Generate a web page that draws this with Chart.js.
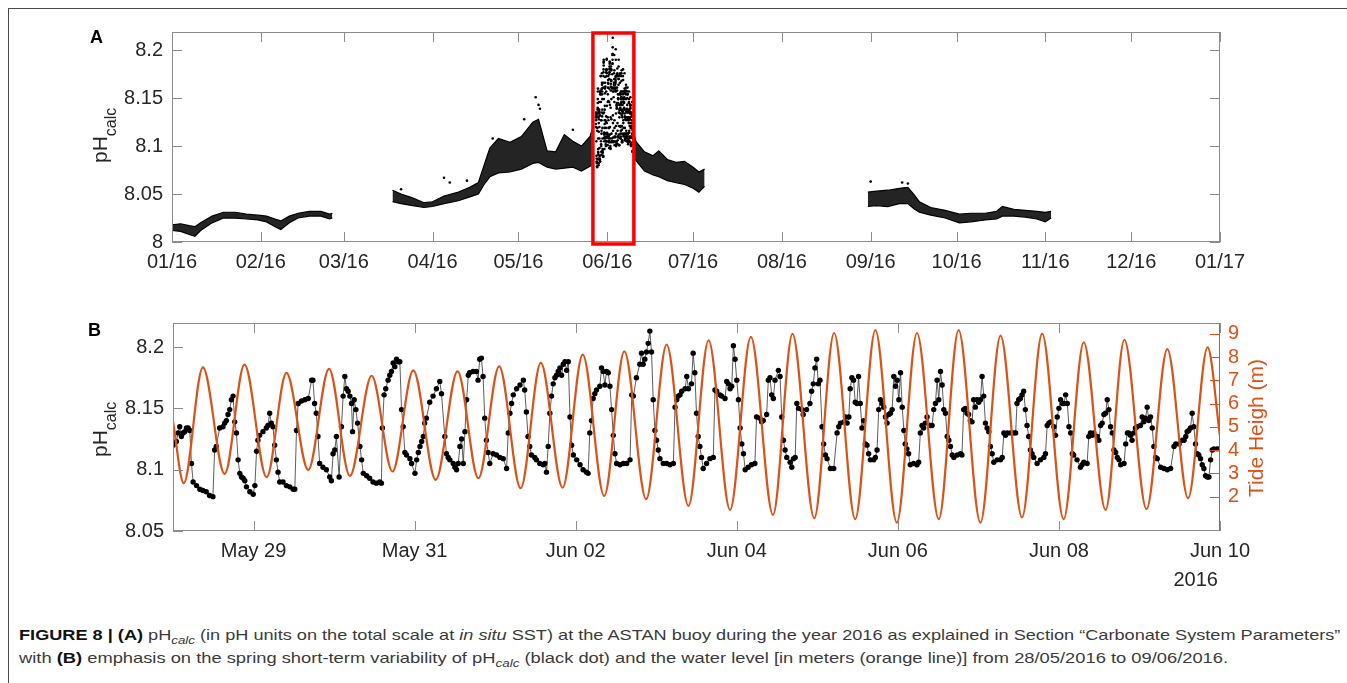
<!DOCTYPE html>
<html>
<head>
<meta charset="utf-8">
<script src="https://cdn.jsdelivr.net/npm/chart.js"></script>
<style>
  body { margin: 0; background: #fff; }
  #fig { position: relative; width: 1347px; height: 683px; overflow: hidden; font-family: "Liberation Sans", Arial, sans-serif; color: #262626; }
  .frame { position: absolute; left: 8px; top: 8px; width: 1400px; height: 800px; border-top: 1.5px solid #4a4a4a; border-left: 1.5px solid #4a4a4a; }
  canvas { position: absolute; left: 0; }
  .panel { position: absolute; font-weight: bold; font-size: 18px; line-height: 18px; color: #000; }
  .ytitle { position: absolute; left: 0; top: 0; transform-origin: 0 0; white-space: nowrap; font-size: 21px; line-height: 21px; }
  .ytitle span { font-size: 16px; position: relative; top: 9px; }
  .cap { position: absolute; left: 19px; white-space: nowrap; font-size: 15px; line-height: 20px; color: #3a3a3a; transform-origin: 0 0; }
  .cap b { color: #111; }
  .cap sub { font-size: 11px; }
</style>
</head>
<body>
<div id="fig">
  <div class="frame"></div>
  <canvas id="chartA" width="1347" height="290" style="top:0"></canvas>
  <canvas id="chartB" width="1347" height="300" style="top:290px"></canvas>
  <div class="panel" style="left:90px;top:28px">A</div>
  <div class="panel" style="left:88px;top:321px">B</div>
  <div class="ytitle" style="transform: translate(89px,163px) rotate(-90deg)">pH<span>calc</span></div>
  <div class="ytitle" style="transform: translate(89px,457px) rotate(-90deg)">pH<span>calc</span></div>
  <div class="ytitle" style="color:#D95319;transform: translate(1245px,497px) rotate(-90deg)">Tide Heigh (m)</div>
  <div style="position:absolute;left:1118px;top:569px;width:100px;text-align:right;font-size:20px;line-height:20px">2016</div>
  <div class="cap" id="cap1" data-w="1321" style="top:625px"><b>FIGURE 8 | (A)</b> pH<sub><i>calc</i></sub> (in pH units on the total scale at <i>in situ</i> SST) at the ASTAN buoy during the year 2016 as explained in Section “Carbonate System Parameters”</div>
  <div class="cap" id="cap2" data-w="1209" style="top:648px">with <b>(B)</b> emphasis on the spring short-term variability of pH<sub><i>calc</i></sub> (black dot) and the water level [in meters (orange line)] from 28/05/2016 to 09/06/2016.</div>
</div>
<script>
// ---------- panel A: whole year 2016, x = day of year (0 = 1 Jan) ----------
const monthTicks = [0, 31, 60, 91, 121, 152, 182, 213, 244, 274, 305, 335, 366];
const monthLabels = ['01/16', '02/16', '03/16', '04/16', '05/16', '06/16', '07/16', '08/16', '09/16', '10/16', '11/16', '12/16', '01/17'];
const phTicksA = [8, 8.05, 8.1, 8.15, 8.2];

// spread of the dense point cloud (lowest / highest values) per period
const winterDay  = [0, 3, 6, 8, 10, 14, 18, 22, 26, 30, 33, 36, 38, 41, 44, 48, 52, 55, 56];
const winterLow  = [8.012, 8.011, 8.008, 8.006, 8.012, 8.020, 8.025, 8.025, 8.024, 8.023, 8.021, 8.016, 8.013, 8.020, 8.025, 8.027, 8.027, 8.024, 8.025];
const winterHigh = [8.018, 8.019, 8.017, 8.016, 8.020, 8.027, 8.031, 8.031, 8.029, 8.028, 8.027, 8.024, 8.022, 8.027, 8.030, 8.032, 8.032, 8.029, 8.030];

const springDay  = [77, 80, 84, 88, 91, 95, 100, 104, 107, 109, 111, 114, 118, 122, 126, 128, 131, 134, 137, 140, 143, 146, 147];
const springLow  = [8.042, 8.040, 8.038, 8.036, 8.037, 8.040, 8.043, 8.047, 8.050, 8.060, 8.068, 8.072, 8.073, 8.076, 8.082, 8.083, 8.078, 8.076, 8.077, 8.078, 8.074, 8.079, 8.080];
const springHigh = [8.054, 8.050, 8.046, 8.041, 8.042, 8.048, 8.052, 8.057, 8.062, 8.080, 8.098, 8.108, 8.104, 8.110, 8.125, 8.128, 8.095, 8.094, 8.112, 8.105, 8.100, 8.110, 8.120];

const summerDay  = [161, 162, 165, 168, 170, 173, 176, 179, 182, 184, 186];
const summerLow  = [8.090, 8.085, 8.074, 8.070, 8.068, 8.064, 8.062, 8.060, 8.056, 8.052, 8.058];
const summerHigh = [8.118, 8.105, 8.094, 8.090, 8.095, 8.086, 8.083, 8.084, 8.078, 8.073, 8.076];

const autumnDay  = [243, 246, 250, 254, 257, 259, 261, 265, 270, 275, 279, 284, 288, 290, 294, 298, 302, 305, 307];
const autumnLow  = [8.037, 8.038, 8.037, 8.040, 8.040, 8.035, 8.031, 8.028, 8.025, 8.020, 8.021, 8.023, 8.024, 8.027, 8.027, 8.026, 8.024, 8.021, 8.025];
const autumnHigh = [8.052, 8.053, 8.054, 8.056, 8.057, 8.050, 8.042, 8.036, 8.033, 8.029, 8.030, 8.030, 8.032, 8.037, 8.034, 8.033, 8.032, 8.031, 8.032];

// isolated points outside the cloud
const yearOutliers = [[80, 8.055], [95, 8.067], [97, 8.062], [103, 8.064], [112, 8.108], [123, 8.128],
  [127, 8.151], [128, 8.143], [128.5, 8.139], [140, 8.117], [244, 8.063], [255, 8.062], [257, 8.061]];

const zoomWindow = [147, 161.3];   // red frame, days
const zoomStartDay = 148;          // 28 May 2016

// ---------- panel B: 28 May - 10 Jun 2016, x = hours since 28 May 00:00 ----------
const hourTicks = [24, 72, 120, 168, 216, 264, 312];
const hourLabels = ['May 29', 'May 31', 'Jun 02', 'Jun 04', 'Jun 06', 'Jun 08', 'Jun 10'];
const phTicksB = [8.05, 8.1, 8.15, 8.2];
const tideTicks = [2, 3, 4, 5, 6, 7, 8, 9];

// [hour, pH_calc]
const phSamples = [
  [0.0,8.120],[1.0,8.123],[1.5,8.130],[2.0,8.135],[2.5,8.127],[3.0,8.130],[3.5,8.131],[4.0,8.134],[4.5,8.134],[5.0,8.132],
  [5.5,8.105],[6.0,8.090],[7.0,8.087],[8.0,8.084],[8.9,8.083],[9.9,8.082],[10.9,8.079],[11.9,8.078],[12.4,8.116],[12.9,8.119],
  [13.9,8.134],[14.9,8.135],[15.4,8.138],[15.9,8.140],[16.4,8.145],[16.9,8.149],[17.4,8.157],[17.9,8.160],[18.4,8.139],[18.9,8.130],
  [19.4,8.108],[19.9,8.097],[20.4,8.094],[20.9,8.093],[21.4,8.091],[21.9,8.086],[22.9,8.082],[23.9,8.080],[24.4,8.087],[24.9,8.115],
  [25.3,8.124],[25.8,8.128],[26.8,8.131],[27.8,8.134],[28.3,8.136],[28.8,8.146],[29.3,8.138],[29.8,8.135],[30.3,8.120],[30.8,8.108],
  [31.3,8.098],[31.8,8.090],[32.8,8.090],[33.8,8.087],[34.8,8.086],[35.8,8.084],[36.3,8.084],[36.8,8.132],[37.3,8.154],[38.3,8.156],
  [39.3,8.157],[40.3,8.158],[41.3,8.173],[41.7,8.173],[42.2,8.154],[42.7,8.146],[43.2,8.127],[43.7,8.105],[44.7,8.102],[45.7,8.100],
  [46.7,8.094],[47.2,8.091],[47.7,8.113],[48.2,8.116],[48.7,8.127],[49.5,8.094],[50.2,8.135],[50.7,8.160],[51.2,8.176],[51.7,8.166],
  [52.2,8.164],[52.7,8.160],[53.2,8.154],[53.5,8.131],[54.0,8.157],[54.5,8.149],[55.0,8.138],[55.7,8.119],[56.2,8.108],[56.7,8.097],
  [57.7,8.095],[58.6,8.093],[59.6,8.090],[60.6,8.089],[61.6,8.090],[62.1,8.089],[62.4,8.134],[62.9,8.161],[63.4,8.166],[64.1,8.173],
  [64.6,8.177],[65.1,8.180],[65.6,8.187],[66.1,8.184],[66.6,8.190],[67.1,8.188],[67.6,8.188],[68.1,8.149],[68.6,8.135],[69.1,8.114],
  [69.6,8.112],[70.6,8.109],[71.1,8.105],[72.1,8.097],[72.6,8.108],[73.1,8.114],[73.6,8.119],[74.1,8.123],[74.6,8.127],[75.0,8.138],
  [75.5,8.142],[76.5,8.155],[77.5,8.160],[78.5,8.166],[79.5,8.172],[80.0,8.162],[81.0,8.127],[81.5,8.113],[82.0,8.110],[82.5,8.108],
  [83.5,8.105],[84.0,8.102],[84.5,8.100],[85.0,8.105],[85.5,8.119],[86.0,8.125],[86.5,8.105],[87.0,8.131],[87.5,8.157],[88.0,8.177],
  [88.4,8.179],[89.4,8.180],[90.4,8.180],[90.9,8.173],[91.4,8.190],[91.9,8.191],[92.4,8.176],[92.9,8.142],[93.4,8.124],[93.9,8.114],
  [94.4,8.105],[95.4,8.113],[96.4,8.112],[97.4,8.110],[98.4,8.109],[99.4,8.101],[99.9,8.130],[100.4,8.146],[100.9,8.154],[101.4,8.161],
  [102.4,8.166],[103.4,8.169],[104.4,8.173],[104.8,8.165],[105.3,8.147],[105.8,8.127],[106.3,8.119],[106.8,8.112],[107.8,8.110],[108.3,8.108],
  [109.3,8.105],[110.3,8.104],[110.8,8.105],[111.3,8.098],[111.8,8.119],[112.3,8.146],[112.8,8.160],[113.3,8.170],[113.8,8.175],[114.3,8.177],
  [114.8,8.180],[115.3,8.183],[115.8,8.177],[116.3,8.186],[116.8,8.188],[117.3,8.181],[117.8,8.188],[118.3,8.143],[118.8,8.120],[119.3,8.112],
  [120.3,8.108],[121.3,8.104],[122.2,8.100],[123.2,8.098],[123.7,8.097],[124.2,8.130],[124.7,8.140],[125.2,8.158],[125.7,8.162],[126.2,8.165],
  [127.2,8.168],[127.7,8.183],[128.2,8.180],[128.7,8.169],[129.2,8.180],[129.7,8.179],[130.2,8.168],[130.7,8.149],[131.2,8.128],[131.7,8.113],
  [132.2,8.105],[133.2,8.104],[134.2,8.105],[135.2,8.105],[136.2,8.108],[136.7,8.161],[137.2,8.160],[138.1,8.175],[139.1,8.186],[139.6,8.195],
  [140.1,8.186],[140.6,8.190],[141.1,8.196],[141.6,8.203],[142.1,8.213],[142.6,8.196],[143.1,8.157],[143.6,8.132],[144.1,8.124],[144.6,8.116],
  [145.1,8.109],[146.1,8.105],[147.1,8.105],[148.1,8.104],[149.1,8.105],[149.6,8.151],[150.1,8.157],[150.6,8.160],[151.1,8.161],[151.6,8.164],
  [152.6,8.166],[153.1,8.176],[153.6,8.166],[154.5,8.170],[155.0,8.195],[155.5,8.179],[156.0,8.146],[156.5,8.127],[157.0,8.119],[157.5,8.110],
  [158.0,8.101],[159.0,8.105],[160.0,8.109],[161.0,8.110],[161.5,8.165],[162.0,8.164],[163.0,8.161],[163.5,8.160],[164.5,8.158],[165.0,8.172],
  [165.5,8.170],[166.0,8.166],[166.5,8.168],[167.0,8.201],[167.5,8.190],[168.0,8.173],[168.5,8.157],[169.0,8.134],[169.5,8.121],[170.0,8.113],
  [170.5,8.100],[171.4,8.102],[172.4,8.104],[173.4,8.105],[173.9,8.143],[174.9,8.142],[175.4,8.139],[175.9,8.140],[176.9,8.145],[177.4,8.173],
  [177.9,8.175],[178.4,8.161],[178.9,8.158],[179.4,8.173],[180.4,8.181],[180.9,8.176],[181.4,8.143],[181.9,8.124],[182.4,8.116],[182.9,8.110],
  [183.9,8.106],[184.4,8.102],[184.9,8.109],[185.4,8.110],[185.9,8.154],[186.4,8.150],[187.4,8.149],[187.8,8.145],[188.8,8.149],[189.8,8.154],
  [190.3,8.164],[190.8,8.170],[191.3,8.183],[191.8,8.190],[192.3,8.170],[192.8,8.173],[193.4,8.135],[193.9,8.121],[194.4,8.112],[194.9,8.109],
  [195.9,8.101],[196.9,8.101],[197.9,8.130],[198.4,8.135],[198.9,8.138],[199.9,8.139],[200.4,8.143],[200.9,8.138],[201.4,8.143],[201.8,8.166],
  [202.3,8.175],[202.8,8.173],[203.3,8.155],[203.8,8.154],[204.3,8.176],[204.8,8.154],[205.3,8.134],[205.8,8.140],[206.3,8.121],[206.8,8.120],
  [207.3,8.113],[207.8,8.108],[208.8,8.108],[209.3,8.110],[209.8,8.116],[210.3,8.149],[210.8,8.157],[211.3,8.154],[211.8,8.151],[212.3,8.143],
  [212.8,8.138],[213.3,8.145],[213.8,8.146],[214.3,8.149],[214.8,8.176],[215.3,8.168],[215.8,8.173],[216.3,8.157],[216.8,8.179],[217.3,8.151],
  [217.8,8.132],[218.2,8.121],[218.7,8.117],[219.2,8.113],[219.7,8.104],[220.7,8.105],[221.7,8.104],[222.2,8.106],[222.7,8.130],[223.2,8.136],
  [223.7,8.134],[224.2,8.138],[224.7,8.143],[225.7,8.136],[226.2,8.136],[226.7,8.149],[227.2,8.154],[227.7,8.173],[228.2,8.157],[228.7,8.180],
  [229.2,8.169],[229.7,8.149],[230.2,8.146],[230.7,8.127],[231.2,8.124],[231.7,8.119],[232.2,8.112],[232.7,8.110],[233.7,8.112],[234.7,8.113],
  [235.1,8.112],[235.6,8.149],[236.1,8.150],[236.6,8.146],[237.1,8.145],[237.6,8.140],[238.1,8.139],[238.6,8.157],[239.1,8.151],[239.6,8.157],
  [240.1,8.155],[240.6,8.157],[241.1,8.176],[241.6,8.160],[242.1,8.138],[242.6,8.134],[243.1,8.131],[243.6,8.119],[244.1,8.113],[244.6,8.106],
  [245.6,8.108],[246.6,8.108],[247.1,8.110],[247.6,8.130],[248.1,8.128],[248.6,8.130],[249.6,8.130],[250.6,8.130],[251.1,8.130],[251.5,8.154],
  [252.0,8.157],[252.5,8.158],[253.0,8.161],[253.5,8.164],[254.0,8.149],[254.5,8.136],[255.0,8.127],[255.5,8.116],[256.0,8.113],[256.5,8.110],
  [257.5,8.105],[258.5,8.108],[259.5,8.110],[260.0,8.113],[260.5,8.136],[261.0,8.138],[261.5,8.139],[262.5,8.135],[263.0,8.128],[263.5,8.143],
  [264.0,8.150],[264.5,8.157],[265.0,8.154],[265.5,8.154],[266.0,8.161],[266.5,8.154],[267.0,8.135],[267.5,8.130],[268.0,8.113],[268.4,8.112],
  [269.4,8.108],[270.4,8.102],[270.9,8.104],[271.4,8.106],[272.4,8.105],[272.9,8.127],[273.4,8.130],[273.9,8.128],[274.4,8.130],[275.4,8.127],
  [275.9,8.124],[276.4,8.136],[276.9,8.138],[277.4,8.145],[277.9,8.146],[278.4,8.157],[278.9,8.149],[279.4,8.135],[279.9,8.130],[280.4,8.116],
  [280.9,8.114],[281.4,8.110],[281.9,8.108],[282.4,8.104],[283.4,8.105],[283.9,8.121],[284.4,8.130],[284.8,8.130],[285.3,8.128],[285.8,8.124],
  [286.3,8.130],[286.8,8.134],[287.3,8.135],[288.3,8.136],[288.8,8.143],[289.3,8.139],[289.8,8.142],[290.3,8.151],[290.8,8.140],[291.3,8.143],
  [291.8,8.134],[292.3,8.119],[292.8,8.110],[293.3,8.109],[294.3,8.102],[295.3,8.101],[296.3,8.100],[297.3,8.101],[298.3,8.119],[298.8,8.121],
  [299.8,8.121],[300.8,8.124],[301.3,8.124],[301.8,8.127],[302.2,8.131],[302.7,8.132],[303.2,8.134],[303.7,8.146],[304.2,8.135],[304.7,8.121],
  [305.2,8.113],[305.7,8.112],[306.2,8.109],[306.7,8.104],[307.2,8.101],[307.7,8.095],[308.2,8.094],[308.7,8.094],[309.2,8.108],[309.7,8.116],
  [310.2,8.117],[311.2,8.117],[312.0,8.117]
];

// [hour, tide height in m] at successive low / high waters
const tideExtremes = [
  [0, 5.23], [3.2, 2.58], [8.9, 7.56], [15.4, 2.98], [21.3, 7.68], [27.9, 2.84], [33.8, 7.32], [40.3, 3.15], [46.5, 7.50],
  [52.7, 2.89], [59.2, 7.20], [65.4, 3.08], [71.6, 7.43], [78.3, 2.72], [84.8, 7.39], [91.0, 2.79], [97.2, 7.60],
  [103.6, 2.36], [109.6, 7.75], [116.1, 2.39], [122.1, 8.11], [128.5, 2.03], [134.5, 8.25], [141.0, 1.89], [147.1, 8.54],
  [153.6, 1.60], [159.6, 8.72], [166.0, 1.43], [172.2, 8.87], [178.8, 1.21], [184.6, 9.00], [191.1, 1.07], [197.0, 9.04],
  [203.3, 1.03], [209.3, 9.16], [215.7, 0.88], [221.7, 9.04], [228.2, 1.03], [234.1, 9.16], [240.6, 0.88], [246.6, 8.93],
  [253.0, 1.11], [259.0, 9.01], [265.4, 1.03], [271.4, 8.64], [277.9, 1.43], [283.5, 8.75], [290.1, 1.46], [296.3, 8.35],
  [302.5, 1.93], [308.3, 8.42], [312.0, 4.60]
];

const ink = '#000000';
const tideColor = '#D95319';
const axisGray = '#8c8c8c';
const labelColor = '#262626';
const tickFont = { family: '"Liberation Sans", Arial, sans-serif', size: 20 };

const toXY = (xs, ys) => xs.map((x, i) => ({ x: x, y: ys[i] }));
const fixTicks = vals => scale => { scale.ticks = vals.map(v => ({ value: v })); };
const phLabel = v => String(+Number(v).toFixed(2));

// MATLAB style box with inward ticks
function boxTicks(mirrorY) {
  return {
    id: 'boxTicks',
    afterDatasetsDraw(chart) {
      const { ctx, chartArea: a, scales } = chart;
      const len = 10;
      ctx.save();
      ctx.lineWidth = 1;
      ctx.strokeStyle = axisGray;
      ctx.strokeRect(a.left + 0.5, a.top + 0.5, a.right - a.left - 1, a.bottom - a.top - 1);
      ctx.beginPath();
      scales.x.ticks.forEach(t => {
        const p = Math.round(scales.x.getPixelForValue(t.value)) + 0.5;
        ctx.moveTo(p, a.bottom); ctx.lineTo(p, a.bottom - len);
        ctx.moveTo(p, a.top); ctx.lineTo(p, a.top + len);
      });
      scales.y.ticks.forEach(t => {
        const p = Math.round(scales.y.getPixelForValue(t.value)) + 0.5;
        ctx.moveTo(a.left, p); ctx.lineTo(a.left + len, p);
        if (mirrorY) { ctx.moveTo(a.right, p); ctx.lineTo(a.right - len, p); }
      });
      ctx.stroke();
      if (scales.y2) {
        ctx.strokeStyle = tideColor;
        ctx.beginPath();
        ctx.moveTo(a.right - 0.5, a.top); ctx.lineTo(a.right - 0.5, a.bottom);
        scales.y2.ticks.forEach(t => {
          const p = Math.round(scales.y2.getPixelForValue(t.value)) + 0.5;
          ctx.moveTo(a.right, p); ctx.lineTo(a.right - len, p);
        });
        ctx.stroke();
      }
      ctx.restore();
    }
  };
}

const redBox = {
  id: 'redBox',
  afterDatasetsDraw(chart) {
    const { ctx, chartArea: a, scales } = chart;
    const x0 = scales.x.getPixelForValue(zoomWindow[0]);
    const x1 = scales.x.getPixelForValue(zoomWindow[1]);
    ctx.save();
    ctx.strokeStyle = '#ff0000';
    ctx.lineWidth = 3.5;
    ctx.strokeRect(x0, a.top + 1, x1 - x0, a.bottom - a.top + 1);
    ctx.restore();
  }
};

const bandSets = [];
[[winterDay, winterLow, winterHigh], [springDay, springLow, springHigh],
 [summerDay, summerLow, summerHigh], [autumnDay, autumnLow, autumnHigh]].forEach(([d, lo, hi]) => {
  bandSets.push({ data: toXY(d, hi), fill: '+1', backgroundColor: 'rgba(0,0,0,0.86)', borderColor: ink, borderWidth: 1.2, pointRadius: 0 });
  bandSets.push({ data: toXY(d, lo), fill: false, borderColor: ink, borderWidth: 1.2, pointRadius: 0 });
});

const common = {
  responsive: false,
  animation: false,
  devicePixelRatio: 1,
  plugins: { legend: { display: false }, tooltip: { enabled: false } }
};

new Chart(document.getElementById('chartA'), {
  type: 'line',
  data: {
    datasets: [
      ...bandSets,
      { type: 'scatter', data: phSamples.map(([h, v]) => ({ x: zoomStartDay + h / 24, y: v })),
        pointRadius: 1.3, pointBackgroundColor: ink, pointBorderWidth: 0 },
      { type: 'scatter', data: yearOutliers.map(([d, v]) => ({ x: d, y: v })),
        pointRadius: 1.3, pointBackgroundColor: ink, pointBorderWidth: 0 }
    ]
  },
  options: {
    ...common,
    layout: { padding: { left: 0, top: 32, right: 127, bottom: 8 } },
    scales: {
      x: {
        type: 'linear', min: 0, max: 366,
        afterBuildTicks: fixTicks(monthTicks),
        afterFit: s => { s.height = 40; },
        grid: { display: false, drawTicks: false }, border: { display: false },
        ticks: { callback: (v, i) => monthLabels[i], font: tickFont, color: labelColor, padding: 8, maxRotation: 0, autoSkip: false }
      },
      y: {
        min: 8, max: 8.219,
        afterBuildTicks: fixTicks(phTicksA),
        afterFit: s => { s.width = 172; },
        grid: { display: false, drawTicks: false }, border: { display: false },
        ticks: { callback: phLabel, font: tickFont, color: labelColor, padding: 9 }
      }
    }
  },
  plugins: [boxTicks(true), redBox]
});

new Chart(document.getElementById('chartB'), {
  type: 'line',
  data: {
    datasets: [
      { data: tideExtremes.map(([h, m]) => ({ x: h, y: m })), yAxisID: 'y2',
        borderColor: tideColor, borderWidth: 2.2, pointRadius: 0, cubicInterpolationMode: 'monotone', fill: false },
      { data: phSamples.map(([h, v]) => ({ x: h, y: v })), yAxisID: 'y',
        borderColor: '#333333', borderWidth: 0.8, pointRadius: 2.7, pointBackgroundColor: ink, pointBorderWidth: 0, fill: false }
    ]
  },
  options: {
    ...common,
    layout: { padding: { left: 0, top: 33, right: 0, bottom: 19 } },
    scales: {
      x: {
        type: 'linear', min: 0, max: 312,
        afterBuildTicks: fixTicks(hourTicks),
        afterFit: s => { s.height = 40; },
        grid: { display: false, drawTicks: false }, border: { display: false },
        ticks: { callback: (v, i) => hourLabels[i], font: tickFont, color: labelColor, padding: 8, maxRotation: 0, autoSkip: false }
      },
      y: {
        position: 'left', min: 8.05, max: 8.2196,
        afterBuildTicks: fixTicks(phTicksB),
        afterFit: s => { s.width = 173; },
        grid: { display: false, drawTicks: false }, border: { display: false },
        ticks: { callback: phLabel, font: tickFont, color: labelColor, padding: 9 }
      },
      y2: {
        position: 'right', min: 0.52, max: 9.47,
        afterBuildTicks: fixTicks(tideTicks),
        afterFit: s => { s.width = 127; },
        grid: { display: false, drawTicks: false }, border: { display: false },
        ticks: { font: tickFont, color: tideColor, padding: 8 }
      }
    }
  },
  plugins: [boxTicks(false)]
});

// squeeze caption lines to the measured line widths
document.querySelectorAll('.cap').forEach(el => {
  const w = el.scrollWidth;
  el.style.transform = 'scaleX(' + (Number(el.dataset.w) / w) + ')';
});
</script>
</body>
</html>
